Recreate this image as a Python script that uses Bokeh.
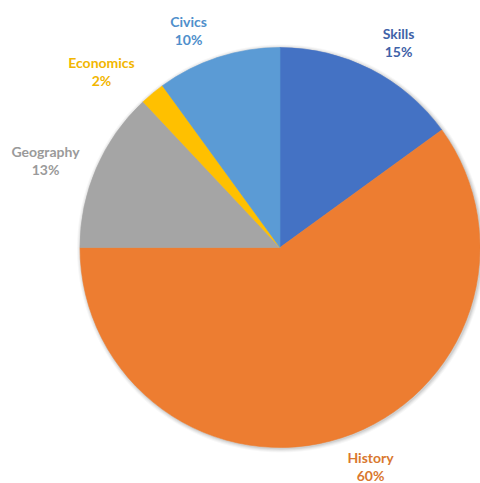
import math
from bokeh.plotting import figure
from bokeh.models import Range1d, ColumnDataSource
from bokeh.core.properties import value
from bokeh.embed import file_html
from bokeh.resources import INLINE

# data
categories = ["Skills", "History", "Geography", "Economics", "Civics"]
percents = [15, 60, 13, 2, 10]

# styles
slice_colors = ["#4472C4", "#ED7D31", "#A5A5A5", "#FFC000", "#5B9BD5"]
label_colors = ["#3F62A8", "#D9782F", "#9A9A9A", "#F2B600", "#4F8FCB"]
# label block centres (screen px, top-left origin)
label_pos = [(398, 42), (370, 466), (45, 160), (101, 71), (188, 30)]

W, H = 480, 483
cx, cy, R = 279.5, H - 247, 200

p = figure(width=W, height=H, output_backend="svg", toolbar_location=None,
           x_range=Range1d(0, W), y_range=Range1d(0, H), min_border=0)
p.axis.visible = False
p.grid.visible = False
p.outline_line_color = None
p.background_fill_color = "white"

total = sum(percents)
starts, ends = [], []
cum = 0
for v in percents:
    starts.append(math.pi / 2 - 2 * math.pi * cum / total)
    cum += v
    ends.append(math.pi / 2 - 2 * math.pi * cum / total)

# soft shadow
for dr, a in [(4, 0.03), (3, 0.04), (2, 0.05), (1, 0.07)]:
    p.circle(x=[cx + 1], y=[cy - 1], radius=R + dr, fill_color="black",
             fill_alpha=a, line_color=None)

src = ColumnDataSource(dict(x=[cx] * len(percents), y=[cy] * len(percents),
                            start=starts, end=ends, color=slice_colors))
p.wedge(x="x", y="y", radius=R, start_angle="start", end_angle="end",
        direction="clock", fill_color="color", line_color="color",
        line_width=0.6, source=src)

lsrc = ColumnDataSource(dict(x=[lp[0] for lp in label_pos],
                             y=[H - lp[1] for lp in label_pos],
                             name=categories,
                             pct=[f"{v}%" for v in percents],
                             c=label_colors))
common = dict(text_color="c", source=lsrc, text_font=value("Lato"),
              text_font_style="bold", text_font_size="14px",
              text_align="center", text_baseline="middle")
p.text(x="x", y="y", text="name", y_offset=-9, **common)
p.text(x="x", y="y", text="pct", y_offset=9, **common)

open("out.html", "w").write(file_html(p, INLINE))
